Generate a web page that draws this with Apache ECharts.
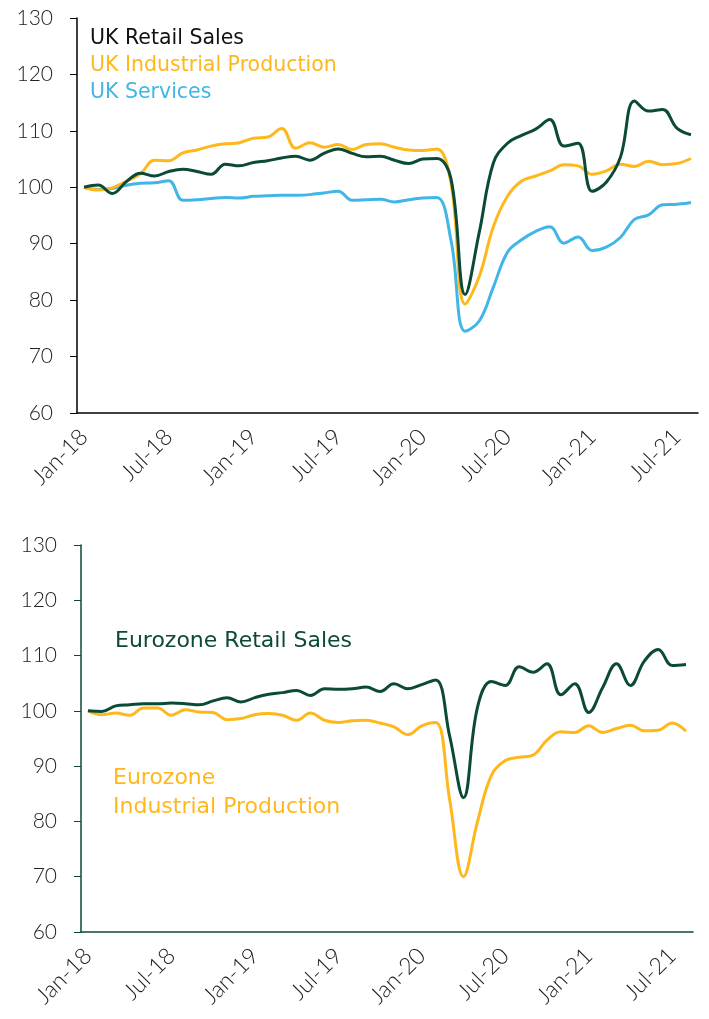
<!DOCTYPE html>
<html>
<head>
<meta charset="utf-8">
<script src="https://cdn.jsdelivr.net/npm/echarts@6/dist/echarts.min.js"></script>
<style>
html,body{margin:0;padding:0;background:#fff;}
#chart{width:709px;height:1019px;}
</style>
</head>
<body>
<div id="chart"></div>
<script>
const months = ['Jan-18','Feb-18','Mar-18','Apr-18','May-18','Jun-18','Jul-18','Aug-18','Sep-18','Oct-18','Nov-18','Dec-18',
  'Jan-19','Feb-19','Mar-19','Apr-19','May-19','Jun-19','Jul-19','Aug-19','Sep-19','Oct-19','Nov-19','Dec-19',
  'Jan-20','Feb-20','Mar-20','Apr-20','May-20','Jun-20','Jul-20','Aug-20','Sep-20','Oct-20','Nov-20','Dec-20',
  'Jan-21','Feb-21','Mar-21','Apr-21','May-21','Jun-21','Jul-21','Aug-21'];

const ukRetail = [100.0,100.4,98.9,101.0,102.5,102.0,102.8,103.2,102.8,102.3,104.1,103.8,
  104.4,104.7,105.2,105.5,104.8,106.0,106.8,106.0,105.4,105.5,104.8,104.2,
  105.0,105.1,101.5,81.0,92.0,104.3,107.8,109.2,110.3,112.0,107.3,107.8,
  99.3,100.9,105.3,115.3,113.5,113.8,110.5,109.3];

const ukIndustrial = [100.0,99.5,99.9,101.1,102.4,104.8,104.7,106.1,106.6,107.3,107.7,107.9,
  108.7,108.9,110.4,106.9,107.9,107.1,107.6,106.7,107.6,107.7,107.1,106.6,
  106.5,106.8,100.7,79.3,84.2,93.0,98.4,101.1,102.0,102.9,104.0,103.8,
  102.3,102.9,104.1,103.7,104.6,104.0,104.2,105.1];

const ukServices = [100.0,99.6,99.8,100.35,100.7,100.8,101.15,97.7,97.8,98.0,98.2,98.1,
  98.4,98.5,98.6,98.6,98.7,99.0,99.3,97.7,97.8,97.9,97.4,97.8,
  98.1,98.2,90.6,74.5,76.3,82.3,88.5,90.7,92.2,93.0,90.1,91.2,
  88.8,89.4,91.1,94.3,95.1,96.9,97.0,97.3];

const ezRetail = [100.0,99.9,100.9,101.1,101.3,101.3,101.4,101.3,101.1,101.8,102.35,101.6,
  102.4,103.0,103.3,103.7,102.8,104.0,103.9,104.0,104.3,103.5,104.9,104.0,
  104.75,105.6,95.5,84.3,100.6,105.3,104.6,108.0,107.0,108.5,102.9,104.9,
  99.7,104.2,108.5,104.6,109.0,111.1,108.2,108.4];

const ezIndustrial = [100.0,99.3,99.6,99.2,100.5,100.5,99.2,100.2,99.8,99.7,98.4,98.6,
  99.3,99.5,99.2,98.3,99.6,98.3,97.9,98.2,98.3,97.8,97.1,95.7,
  97.3,97.9,84.0,70.0,79.9,88.3,91.0,91.6,92.0,94.7,96.2,96.1,
  97.3,96.1,96.8,97.4,96.4,96.5,97.8,96.3];

const yTicks = {min: 60, max: 130, interval: 10};

const FONT = 'Lato';
const LEGEND_FONT = '"DejaVu Sans"';
const DKGREEN = '#0b4a36';
const YELLOW = '#ffb81c';
const BLUE = '#41b6e6';

function xAxis(gridIndex, lineColor) {
  return {
    type: 'category', gridIndex, data: months, boundaryGap: true,
    axisLine: {lineStyle: {color: lineColor, width: 1.5}},
    axisTick: {interval: 5, length: 7, lineStyle: {color: lineColor}},
    axisLabel: {interval: 5, rotate: 45, margin: 20, fontFamily: FONT, fontSize: 23, color: '#222', fontWeight: 300}
  };
}
function yAxis(gridIndex, lineColor) {
  return {
    type: 'value', gridIndex, min: yTicks.min, max: yTicks.max, interval: yTicks.interval,
    axisLine: {show: true, lineStyle: {color: lineColor, width: 1.5}},
    axisTick: {show: true, length: 7, lineStyle: {color: lineColor}},
    splitLine: {show: false},
    axisLabel: {margin: 24, fontFamily: FONT, fontSize: 21, color: '#222', fontWeight: 300}
  };
}
function line(name, data, color, idx) {
  return {
    name, type: 'line', data, xAxisIndex: idx, yAxisIndex: idx, smooth: 0.4,
    showSymbol: false, symbol: 'none',
    lineStyle: {color, width: 3}, itemStyle: {color}
  };
}

const chart = echarts.init(document.getElementById('chart'), null, {renderer: 'canvas'});
chart.setOption({
  animation: false,
  backgroundColor: '#fff',
  grid: [
    {left: 77, top: 18, width: 621, height: 395},
    {left: 81, top: 545, width: 612, height: 387}
  ],
  xAxis: [xAxis(0, '#000'), xAxis(1, DKGREEN)],
  yAxis: [yAxis(0, '#000'), yAxis(1, DKGREEN)],
  series: [
    line('UK Services', ukServices, BLUE, 0),
    line('UK Industrial Production', ukIndustrial, YELLOW, 0),
    line('UK Retail Sales', ukRetail, DKGREEN, 0),
    line('Eurozone Industrial Production', ezIndustrial, YELLOW, 1),
    line('Eurozone Retail Sales', ezRetail, DKGREEN, 1)
  ],
  graphic: [
    {type: 'text', left: 90, top: 28, style: {text: 'UK Retail Sales', fill: '#111', font: '20.5px ' + LEGEND_FONT}},
    {type: 'text', left: 90, top: 55, style: {text: 'UK Industrial Production', fill: YELLOW, font: '20.5px ' + LEGEND_FONT}},
    {type: 'text', left: 90, top: 82, style: {text: 'UK Services', fill: BLUE, font: '20.5px ' + LEGEND_FONT}},
    {type: 'text', left: 115, top: 630, style: {text: 'Eurozone Retail Sales', fill: DKGREEN, font: '22px ' + LEGEND_FONT}},
    {type: 'text', left: 113, top: 767, style: {text: 'Eurozone', fill: YELLOW, font: '22px ' + LEGEND_FONT}},
    {type: 'text', left: 113, top: 796, style: {text: 'Industrial Production', fill: YELLOW, font: '22px ' + LEGEND_FONT}}
  ]
});
</script>
</body>
</html>
